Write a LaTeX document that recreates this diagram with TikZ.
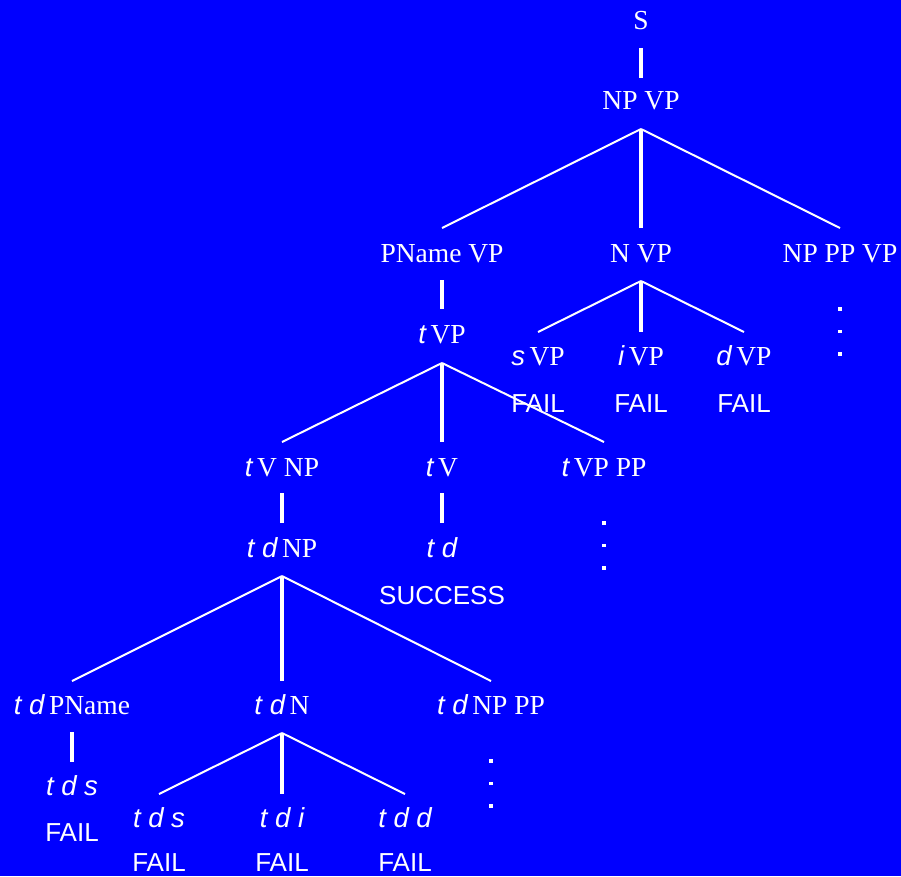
\documentclass[tikz,border=0pt]{standalone}
\usepackage{fontspec}
\setmainfont{Liberation Serif}
\setsansfont{Liberation Sans}
\usetikzlibrary{calc}
\definecolor{bgblue}{RGB}{0,0,255}
% terminal symbols: sans-serif italic
\newcommand{\tm}[1]{{\sffamily\itshape #1}}
\begin{document}
\begin{tikzpicture}[x=1pt,y=-1pt,
  nt/.style={text=white,inner sep=0pt,anchor=base,font=\fontsize{27.5}{30}\selectfont},
  res/.style={text=white,inner sep=0pt,anchor=base,font=\sffamily\fontsize{26}{30}\selectfont},
  branch/.style={draw=white,line width=2pt},
  stem/.style={draw=white,line width=3.7pt},
  dotmark/.style={fill=white}]
\fill[bgblue] (0,0) rectangle (901,876);
\useasboundingbox (0,0) rectangle (901,876);

% ---- nodes (placed on their baselines) ----
\node[nt] (s)      at (641,29)  {S};
\node[nt] (npvp)   at (641,109) {NP VP};
\node[nt] (pnvp)   at (442,262) {PName VP};
\node[nt] (nvp)    at (641,262) {N VP};
\node[nt] (npppvp) at (840,262) {NP PP VP};
\node[nt] (tvp)    at (442,343) {\tm{t\,}VP};
\node[nt] (svp)    at (538,365) {\tm{s\,}VP};
\node[nt] (ivp)    at (641,365) {\tm{i\,}VP};
\node[nt] (dvp)    at (744,365) {\tm{d\,}VP};
\node[res] (f1)    at (538,412) {FAIL};
\node[res] (f2)    at (641,412) {FAIL};
\node[res] (f3)    at (744,412) {FAIL};
\node[nt] (tvnp)   at (282,476) {\tm{t\,}V NP};
\node[nt] (tv)     at (442,476) {\tm{t\,}V};
\node[nt] (tvppp)  at (604,476) {\tm{t\,}VP PP};
\node[nt] (tdnp)   at (282,557) {\tm{t d\,}NP};
\node[nt] (td)     at (442,557) {\tm{t d}};
\node[res] (succ)  at (442,604) {SUCCESS};
\node[nt] (tdpn)   at (72,714)  {\tm{t d\,}PName};
\node[nt] (tdn)    at (282,714) {\tm{t d\,}N};
\node[nt] (tdnppp) at (491,714) {\tm{t d\,}NP PP};
\node[nt] (tds)    at (72,795)  {\tm{t d s}};
\node[res] (f4)    at (72,841)  {FAIL};
\node[nt] (tds2)   at (159,827) {\tm{t d s}};
\node[nt] (tdi)    at (282,827) {\tm{t d i}};
\node[nt] (tdd)    at (405,827) {\tm{t d d}};
\node[res] (f5)    at (159,871) {FAIL};
\node[res] (f6)    at (282,871) {FAIL};
\node[res] (f7)    at (405,871) {FAIL};

% ---- single derivation steps ----
\draw[stem] ($(s.base)+(0,19)$)    -- ($(npvp.base)+(0,-31)$);
\draw[stem] ($(pnvp.base)+(0,18)$) -- ($(tvp.base)+(0,-34)$);
\draw[stem] ($(tvnp.base)+(0,17)$) -- ($(tdnp.base)+(0,-34)$);
\draw[stem] ($(tv.base)+(0,17)$)   -- ($(td.base)+(0,-34)$);
\draw[stem] ($(tdpn.base)+(0,18)$) -- ($(tds.base)+(0,-33)$);

% ---- branching steps ----
\coordinate (a1) at ($(npvp.base)+(0,20)$);
\draw[branch] (a1) -- ($(pnvp.base)+(0,-34)$);
\draw[stem]   (a1) -- ($(nvp.base)+(0,-34)$);
\draw[branch] (a1) -- ($(npppvp.base)+(0,-34)$);

\coordinate (a2) at ($(nvp.base)+(0,19)$);
\draw[branch] (a2) -- ($(svp.base)+(0,-33)$);
\draw[stem]   (a2) -- ($(ivp.base)+(0,-33)$);
\draw[branch] (a2) -- ($(dvp.base)+(0,-33)$);

\coordinate (a3) at ($(tvp.base)+(0,20)$);
\draw[branch] (a3) -- ($(tvnp.base)+(0,-34)$);
\draw[stem]   (a3) -- ($(tv.base)+(0,-34)$);
\draw[branch] (a3) -- ($(tvppp.base)+(0,-34)$);

\coordinate (a4) at ($(tdnp.base)+(0,19)$);
\draw[branch] (a4) -- ($(tdpn.base)+(0,-33)$);
\draw[stem]   (a4) -- ($(tdn.base)+(0,-33)$);
\draw[branch] (a4) -- ($(tdnppp.base)+(0,-33)$);

\coordinate (a5) at ($(tdn.base)+(0,19)$);
\draw[branch] (a5) -- ($(tds2.base)+(0,-33)$);
\draw[stem]   (a5) -- ($(tdi.base)+(0,-33)$);
\draw[branch] (a5) -- ($(tdd.base)+(0,-33)$);

% ---- continuation dots ----
\foreach \n in {npppvp,tvppp,tdnppp}{
  \foreach \dy in {47,69.5,92}{
    \fill[dotmark] ($(\n.base)+(-1.6,\dy-1.6)$) rectangle +(3.2,3.2);
  }
}
\end{tikzpicture}
\end{document}
